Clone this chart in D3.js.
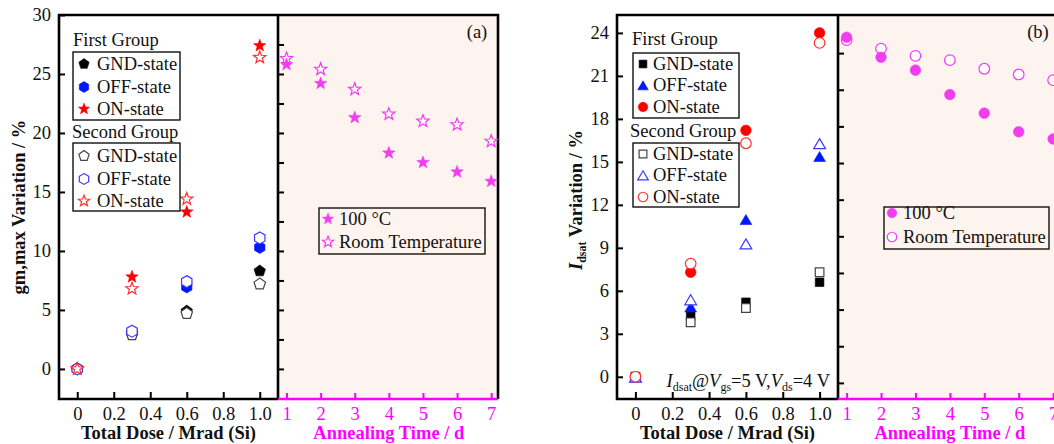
<!DOCTYPE html>
<html>
<head>
<meta charset="utf-8">
<script src="https://cdn.jsdelivr.net/npm/d3@7"></script>
<style>
  body { margin: 0; background: #fff; }
  svg { display: block; }
  text { font-family: "Liberation Serif", "Times New Roman", serif; }
</style>
</head>
<body>
<svg id="chart" width="1054" height="444"></svg>
<script>
// ---- data -------------------------------------------------------------
const doseLevels = [0, 0.3, 0.6, 1.0];          // Mrad (Si)
const annealDays = [1, 2, 3, 4, 5, 6, 7];       // d

// (a) gm,max variation, %
const gmFirstGND  = [0, 3.0, 4.9, 8.3];
const gmFirstOFF  = [0, 3.1, 6.95, 10.3];
const gmFirstON   = [0, 7.8, 13.3, 27.4];
const gmSecondGND = [0, 2.9, 4.7, 7.2];
const gmSecondOFF = [0, 3.2, 7.4, 11.1];
const gmSecondON  = [0, 6.8, 14.4, 26.4];
const gmAnneal100C = [25.8, 24.2, 21.3, 18.3, 17.5, 16.7, 15.9];
const gmAnnealRoom = [26.3, 25.4, 23.7, 21.6, 21.0, 20.7, 19.3];

// (b) Idsat variation, %
const idFirstGND  = [0, 4.25, 5.2, 6.6];
const idFirstOFF  = [0, 4.9, 11.0, 15.4];
const idFirstON   = [0, 7.3, 17.2, 24.0];
const idSecondGND = [0, 3.8, 4.8, 7.3];
const idSecondOFF = [0, 5.4, 9.3, 16.3];
const idSecondON  = [0, 7.9, 16.3, 23.3];
const idAnneal100C = [23.7, 22.3, 21.4, 19.7, 18.4, 17.1, 16.6];
const idAnnealRoom = [23.5, 22.9, 22.4, 22.1, 21.5, 21.1, 20.7];

// ticks and labels
const doseTicks = [0, 0.2, 0.4, 0.6, 0.8, 1.0];
const doseTickLabels = ["0", "0.2", "0.4", "0.6", "0.8", "1.0"];
const gmTicks = [0, 5, 10, 15, 20, 25, 30];
const idTicks = [0, 3, 6, 9, 12, 15, 18, 21, 24];
const stateNames = ["GND-state", "OFF-state", "ON-state"];
const groupNames = ["First Group", "Second Group"];
const annealNames = ["100 °C", "Room Temperature"];

// ---- styling ----------------------------------------------------------
const MAGENTA = "#ff00ff";
const PINK = "#f23cf0";
const PINK_BG = "#fdf3ef";
const FS = 18.5;

function markerPath(shape, r) {
  const poly = (n, rad, phase) => {
    const pts = d3.range(n).map(i => {
      const a = phase + i * 2 * Math.PI / n;
      return [rad * Math.cos(a), rad * Math.sin(a)];
    });
    return "M" + pts.map(p => p[0].toFixed(2) + "," + p[1].toFixed(2)).join("L") + "Z";
  };
  switch (shape) {
    case "pentagon": return poly(5, r, -Math.PI / 2);
    case "hexagon":  return poly(6, r, -Math.PI / 2);
    case "triangle": {
      const c = r * 0.25;
      const pts = [[0, -r + c], [r * 0.95, r * 0.62 + c], [-r * 0.95, r * 0.62 + c]];
      return "M" + pts.map(p => p.join(",")).join("L") + "Z";
    }
    case "square": {
      const h = r * 0.8;
      return `M${-h},${-h}L${h},${-h}L${h},${h}L${-h},${h}Z`;
    }
    case "circle":
      return `M${-r},0A${r},${r} 0 1,0 ${r},0A${r},${r} 0 1,0 ${-r},0Z`;
    case "star": {
      const pts = d3.range(10).map(i => {
        const a = -Math.PI / 2 + i * Math.PI / 5;
        const rad = i % 2 === 0 ? r : r * 0.42;
        return [rad * Math.cos(a), rad * Math.sin(a)];
      });
      return "M" + pts.map(p => p[0].toFixed(2) + "," + p[1].toFixed(2)).join("L") + "Z";
    }
  }
}

const svg = d3.select("#chart");

function drawMarker(g, x, y, s) {
  g.append("path")
    .attr("transform", `translate(${x},${y})`)
    .attr("d", markerPath(s.shape, s.size))
    .attr("fill", s.hollow ? "#fff" : s.color)
    .attr("stroke", s.color)
    .attr("stroke-width", s.hollow ? 1.2 : 0.6);
}

function drawPanel(p) {
  const g = svg.append("g");

  const xDose = d3.scaleLinear().domain([-0.1, 1.1]).range([p.left, p.split]);
  const xDay = d3.scaleLinear().domain([0.75, 7.2]).range([p.split, p.right]);
  const y = d3.scaleLinear().domain(p.yDomain).range([p.bottom, p.top]);
  const yAnneal = d3.scaleLinear().domain(p.annealTickDomain).range([p.bottom, p.top]);

  // background of the annealing section
  g.append("rect").attr("x", p.split).attr("y", p.top)
    .attr("width", p.right - p.split).attr("height", p.bottom - p.top)
    .attr("fill", PINK_BG);

  // left value axis (ticks point inward)
  const ya = g.append("g").attr("transform", `translate(${p.left},0)`)
    .call(d3.axisLeft(y).tickValues(p.yTicks).tickSizeInner(-6).tickSizeOuter(0).tickPadding(8));
  ya.select(".domain").remove();
  ya.selectAll("line").attr("stroke", "#000").attr("stroke-width", 2);
  ya.selectAll("text").attr("font-size", FS).attr("fill", "#111");

  // tick marks on the divider, facing the annealing section
  const yr = g.append("g").attr("transform", `translate(${p.split},0)`)
    .call(d3.axisRight(yAnneal).tickValues(p.annealTicks).tickSizeInner(6).tickSizeOuter(0).tickFormat(""));
  yr.select(".domain").remove();
  yr.selectAll("line").attr("stroke", "#000").attr("stroke-width", 2);

  // dose axis
  const xa = g.append("g").attr("transform", `translate(0,${p.bottom})`)
    .call(d3.axisBottom(xDose).tickValues(doseTicks).tickSizeInner(-7).tickSizeOuter(0).tickPadding(8)
      .tickFormat((d, i) => doseTickLabels[i]));
  xa.select(".domain").remove();
  xa.selectAll("line").attr("stroke", "#000").attr("stroke-width", 2);
  xa.selectAll("text").attr("font-size", FS).attr("fill", "#111");

  // annealing-time axis
  const da = g.append("g").attr("transform", `translate(0,${p.bottom})`)
    .call(d3.axisBottom(xDay).tickValues(annealDays).tickSizeInner(-6).tickSizeOuter(0).tickPadding(8)
      .tickFormat(d3.format("d")));
  da.select(".domain").remove();
  da.selectAll("line").attr("stroke", MAGENTA).attr("stroke-width", 2);
  da.selectAll("text").attr("font-size", FS).attr("fill", MAGENTA);

  // frame
  g.append("path")
    .attr("d", `M${p.split},${p.bottom}L${p.left},${p.bottom}L${p.left},${p.top}L${p.right},${p.top}L${p.right},${p.bottom}`)
    .attr("fill", "none").attr("stroke", "#000").attr("stroke-width", 2.6);
  g.append("line").attr("x1", p.split).attr("x2", p.split).attr("y1", p.top).attr("y2", p.bottom)
    .attr("stroke", "#000").attr("stroke-width", 2.6);
  g.append("line").attr("x1", p.split).attr("x2", p.right).attr("y1", p.bottom).attr("y2", p.bottom)
    .attr("stroke", MAGENTA).attr("stroke-width", 2.6);

  // dose series: filled first, hollow on top
  p.doseSeries.forEach(s => {
    s.values.forEach((v, i) => drawMarker(g, xDose(doseLevels[i]), y(v), s));
  });
  p.annealSeries.slice().reverse().forEach(s => {
    s.values.forEach((v, i) => drawMarker(g, xDay(annealDays[i]), y(v), s));
  });

  // group legends
  p.groupLegends.forEach((L, gi) => {
    g.append("text").attr("x", L.titleX).attr("y", L.titleY)
      .attr("font-size", FS).attr("fill", "#111").text(groupNames[gi]);
    g.append("rect").attr("x", L.box[0]).attr("y", L.box[1])
      .attr("width", L.box[2]).attr("height", L.box[3])
      .attr("fill", "#fff").attr("stroke", "#111").attr("stroke-width", 1.4);
    L.series.forEach((s, k) => {
      const ty = L.rowY[k];
      drawMarker(g, L.symX, ty - 6, Object.assign({}, s, { size: s.size * 0.9 }));
      g.append("text").attr("x", L.textX).attr("y", ty)
        .attr("font-size", FS).attr("fill", "#111").text(stateNames[k]);
    });
  });

  // annealing legend
  const A = p.annealLegend;
  g.append("rect").attr("x", A.box[0]).attr("y", A.box[1])
    .attr("width", A.box[2]).attr("height", A.box[3])
    .attr("fill", "none").attr("stroke", "#111").attr("stroke-width", 1.4);
  p.annealSeries.forEach((s, k) => {
    const ty = A.rowY[k];
    drawMarker(g, A.symX, ty - 6, Object.assign({}, s, { size: s.size * 0.9 }));
    g.append("text").attr("x", A.textX).attr("y", ty)
      .attr("font-size", FS).attr("fill", "#111").text(annealNames[k]);
  });

  // panel tag
  g.append("text").attr("x", p.tagX).attr("y", 38).attr("text-anchor", "middle")
    .attr("font-size", FS).attr("fill", "#111").text(p.tag);

  // axis titles
  g.append("text").attr("x", (xDose(0) + xDose(1)) / 2).attr("y", 439)
    .attr("text-anchor", "middle").attr("font-size", FS).attr("font-weight", "bold")
    .attr("fill", "#111").text("Total Dose / Mrad (Si)");
  g.append("text").attr("x", (xDay(1) + xDay(7)) / 2).attr("y", 439)
    .attr("text-anchor", "middle").attr("font-size", FS).attr("font-weight", "bold")
    .attr("fill", MAGENTA).text("Annealing Time / d");

  const yt = g.append("text")
    .attr("transform", `translate(${p.yTitleX},${p.yTitleY}) rotate(-90)`)
    .attr("text-anchor", "middle").attr("font-size", FS).attr("font-weight", "bold").attr("fill", "#111");
  p.yTitle(yt);

  return { g, xDose, y };
}

// ---- panel (a) --------------------------------------------------------
const gmDose = [
  { values: gmFirstGND,  shape: "pentagon", color: "#000",    size: 6,   hollow: false },
  { values: gmFirstOFF,  shape: "hexagon",  color: "#0018ff", size: 6,   hollow: false },
  { values: gmFirstON,   shape: "star",     color: "#ff0000", size: 6.5, hollow: false },
  { values: gmSecondGND, shape: "pentagon", color: "#444",    size: 6,   hollow: true },
  { values: gmSecondOFF, shape: "hexagon",  color: "#3a3aff", size: 6,   hollow: true },
  { values: gmSecondON,  shape: "star",     color: "#ff3030", size: 6.5, hollow: true }
];
const gmAnneal = [
  { values: gmAnneal100C, shape: "star", color: PINK, size: 6.5, hollow: false },
  { values: gmAnnealRoom, shape: "star", color: PINK, size: 6.5, hollow: true }
];

drawPanel({
  left: 59, split: 278, right: 498, top: 15, bottom: 399,
  yDomain: [-2.55, 30], yTicks: gmTicks,
  annealTickDomain: [-2.55, 30], annealTicks: d3.range(0, 30, 2.5),
  doseSeries: gmDose, annealSeries: gmAnneal,
  groupLegends: [
    { titleX: 73, titleY: 46, box: [73, 52, 107, 68], symX: 84, textX: 97, rowY: [70, 93, 115], series: gmDose.slice(0, 3) },
    { titleX: 72, titleY: 138, box: [73, 143, 107, 68], symX: 84, textX: 97, rowY: [162, 185, 207], series: gmDose.slice(3) }
  ],
  annealLegend: { box: [319, 208, 166, 46], symX: 328, textX: 339, rowY: [225, 248] },
  tag: "(a)", tagX: 477,
  yTitleX: 25, yTitleY: 207,
  yTitle: t => {
    t.append("tspan").text("gm,max");
    t.append("tspan").text(" Variation / %");
  }
});

// ---- panel (b) --------------------------------------------------------
const idDose = [
  { values: idFirstGND,  shape: "square",   color: "#000",    size: 5.4, hollow: false },
  { values: idFirstOFF,  shape: "triangle", color: "#0018ff", size: 6.2, hollow: false },
  { values: idFirstON,   shape: "circle",   color: "#ff0000", size: 5.3, hollow: false },
  { values: idSecondGND, shape: "square",   color: "#444",    size: 5.4, hollow: true },
  { values: idSecondOFF, shape: "triangle", color: "#3a3aff", size: 6.2, hollow: true },
  { values: idSecondON,  shape: "circle",   color: "#ff3030", size: 5.3, hollow: true }
];
const idAnneal = [
  { values: idAnneal100C, shape: "circle", color: PINK, size: 5.3, hollow: false },
  { values: idAnnealRoom, shape: "circle", color: PINK, size: 5.3, hollow: true }
];

const pb = drawPanel({
  left: 617, split: 838, right: 1060, top: 15, bottom: 399,
  yDomain: [-1.55, 25.25], yTicks: idTicks,
  annealTickDomain: [-1.1, 25.1], annealTicks: d3.range(0, 25, 2.5),
  doseSeries: idDose, annealSeries: idAnneal,
  groupLegends: [
    { titleX: 632, titleY: 45, box: [633, 53, 106, 65], symX: 643, textX: 653, rowY: [70, 91, 113], series: idDose.slice(0, 3) },
    { titleX: 630, titleY: 137, box: [633, 143, 106, 64], symX: 643, textX: 653, rowY: [160, 181, 203], series: idDose.slice(3) }
  ],
  annealLegend: { box: [884, 207, 165, 42], symX: 892, textX: 903, rowY: [219, 243] },
  tag: "(b)", tagX: 1038,
  yTitleX: 582, yTitleY: 200,
  yTitle: t => {
    t.append("tspan").attr("font-style", "italic").text("I");
    t.append("tspan").attr("font-size", 12).attr("dy", 4).text("dsat");
    t.append("tspan").attr("dy", -4).text(" Variation / %");
  }
});

// bias condition note in panel (b)
const note = pb.g.append("text").attr("x", 830).attr("y", 387)
  .attr("text-anchor", "end").attr("font-size", FS).attr("fill", "#111");
note.append("tspan").attr("font-style", "italic").text("I");
note.append("tspan").attr("font-size", 12).attr("dy", 4).text("dsat");
note.append("tspan").attr("dy", -4).text("@");
note.append("tspan").attr("font-style", "italic").text("V");
note.append("tspan").attr("font-size", 12).attr("dy", 4).text("gs");
note.append("tspan").attr("dy", -4).text("=5 V,");
note.append("tspan").attr("font-style", "italic").text("V");
note.append("tspan").attr("font-size", 12).attr("dy", 4).text("ds");
note.append("tspan").attr("dy", -4).text("=4 V");
</script>
</body>
</html>
